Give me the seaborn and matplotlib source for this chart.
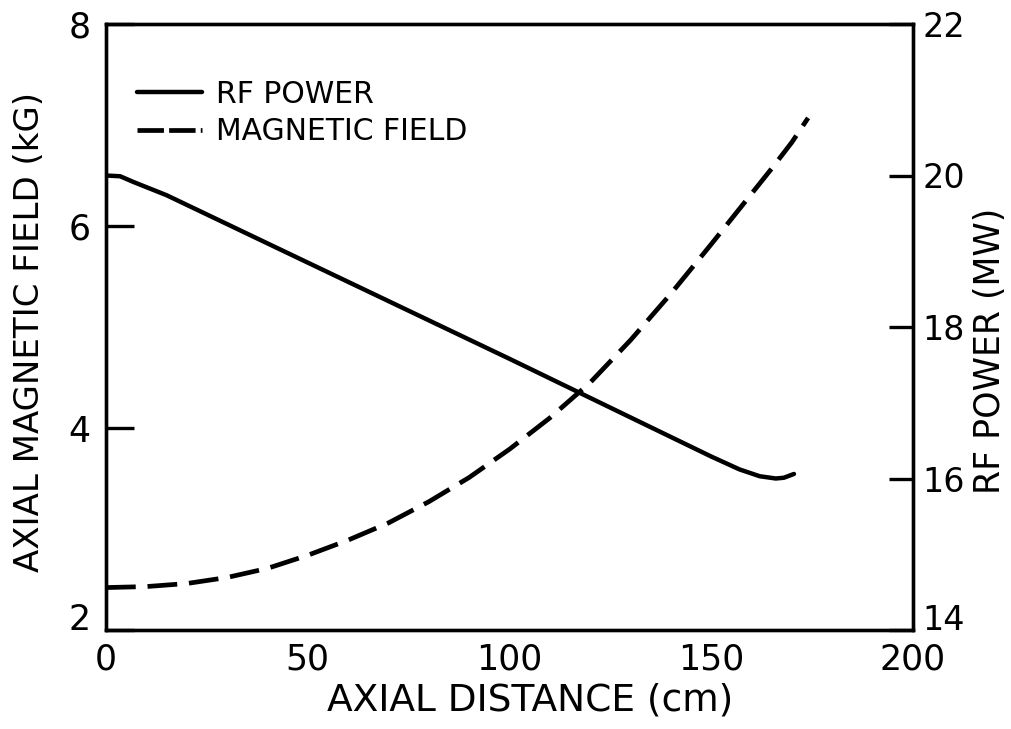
import numpy as np
import pandas as pd
import matplotlib
matplotlib.use("Agg")
import matplotlib.pyplot as plt
import seaborn as sns
from matplotlib.lines import Line2D

# Data
dist_rf = [0, 3.5, 7, 15, 50, 100, 150, 157, 162, 166, 168, 170.5]
rf_power = [20.0, 19.99, 19.91, 19.74, 18.85, 17.58, 16.29, 16.12, 16.03, 16.0, 16.01, 16.06]

dist_b = [0, 10, 20, 30, 40, 50, 60, 70, 80, 90, 100, 110, 120, 130, 140, 150, 160, 165, 170, 174]
b_field = [2.42, 2.43, 2.46, 2.52, 2.61, 2.74, 2.89, 3.06, 3.27, 3.51, 3.79, 4.10, 4.45,
           4.87, 5.33, 5.82, 6.32, 6.57, 6.83, 7.07]

x_ticks = [0, 50, 100, 150, 200]
yl_ticks = [2, 4, 6, 8]
yr_ticks = [14, 16, 18, 20, 22]

sns.set_theme(style="white")
plt.rcParams['font.family'] = ['DejaVu Sans']
plt.rcParams['text.color'] = 'black'
plt.rcParams['axes.labelcolor'] = 'black'
plt.rcParams['xtick.color'] = 'black'
plt.rcParams['ytick.color'] = 'black'

fig = plt.figure(figsize=(10.11, 7.29), dpi=100)
ax = fig.add_axes([106/1011, 1 - 630/729, (913-106)/1011, (630-24)/729])
ax2 = ax.twinx()

df_b = pd.DataFrame({"x": dist_b, "y": b_field})
df_rf = pd.DataFrame({"x": dist_rf, "y": rf_power})

sns.lineplot(data=df_b, x="x", y="y", ax=ax, color="black", lw=3.4,
             estimator=None, sort=True)
ax.lines[-1].set_dashes([6.3, 2.5])
sns.lineplot(data=df_rf, x="x", y="y", ax=ax2, color="black", lw=3.2,
             estimator=None, sort=True)

ax.set_xlim(0, 200)
ax.set_ylim(2, 8)
ax2.set_ylim(14, 22)
ax.set_xticks(x_ticks)
ax.set_yticks(yl_ticks)
ax2.set_yticks(yr_ticks)

for a in (ax, ax2):
    for s in a.spines.values():
        s.set_color("black")
        s.set_linewidth(2.4)
ax.tick_params(axis="x", direction="in", length=17, width=2.4, labelsize=25,
               labelcolor="black", pad=9)
ax.tick_params(axis="y", direction="in", length=20, width=2.4, labelsize=25,
               labelcolor="black", pad=11)
ax2.tick_params(axis="y", direction="in", length=17, width=2.4, labelsize=24,
                labelcolor="black", pad=7)

# lowest tick labels sit just above the corner, as in the reference
ax2.yaxis.get_major_ticks()[0].label2.set_va("baseline")
ax.yaxis.get_major_ticks()[0].label1.set_va("baseline")

ax.set_xlabel("AXIAL DISTANCE (cm)", fontsize=27, color="black", va="center")
ax.xaxis.set_label_coords((530 - 106) / 807, -(700 - 630) / 606)
ax.set_ylabel("AXIAL MAGNETIC FIELD (kG)", fontsize=24.5, color="black", va="center")
ax.yaxis.set_label_coords(-(106 - 30) / 807, (630 - 332) / 606)
ax2.set_ylabel("RF POWER (MW)", fontsize=25, color="black", va="center", rotation=90)
ax2.yaxis.set_label_coords((990 - 106) / 807, (630 - 351) / 606)
ax.grid(False)
ax2.grid(False)

handles = [Line2D([], [], color="black", lw=3.2),
           Line2D([], [], color="black", lw=3.4, dashes=[5.6, 1.1])]
leg = ax.legend(handles, ["RF POWER", "MAGNETIC FIELD"], loc="upper left",
                bbox_to_anchor=(0.038, 0.908), frameon=False, fontsize=21.5,
                handlelength=2.2, handletextpad=0.45, labelspacing=0.28,
                borderaxespad=0, borderpad=0)
for t in leg.get_texts():
    t.set_color("black")

fig.savefig("out.png", dpi=100)
